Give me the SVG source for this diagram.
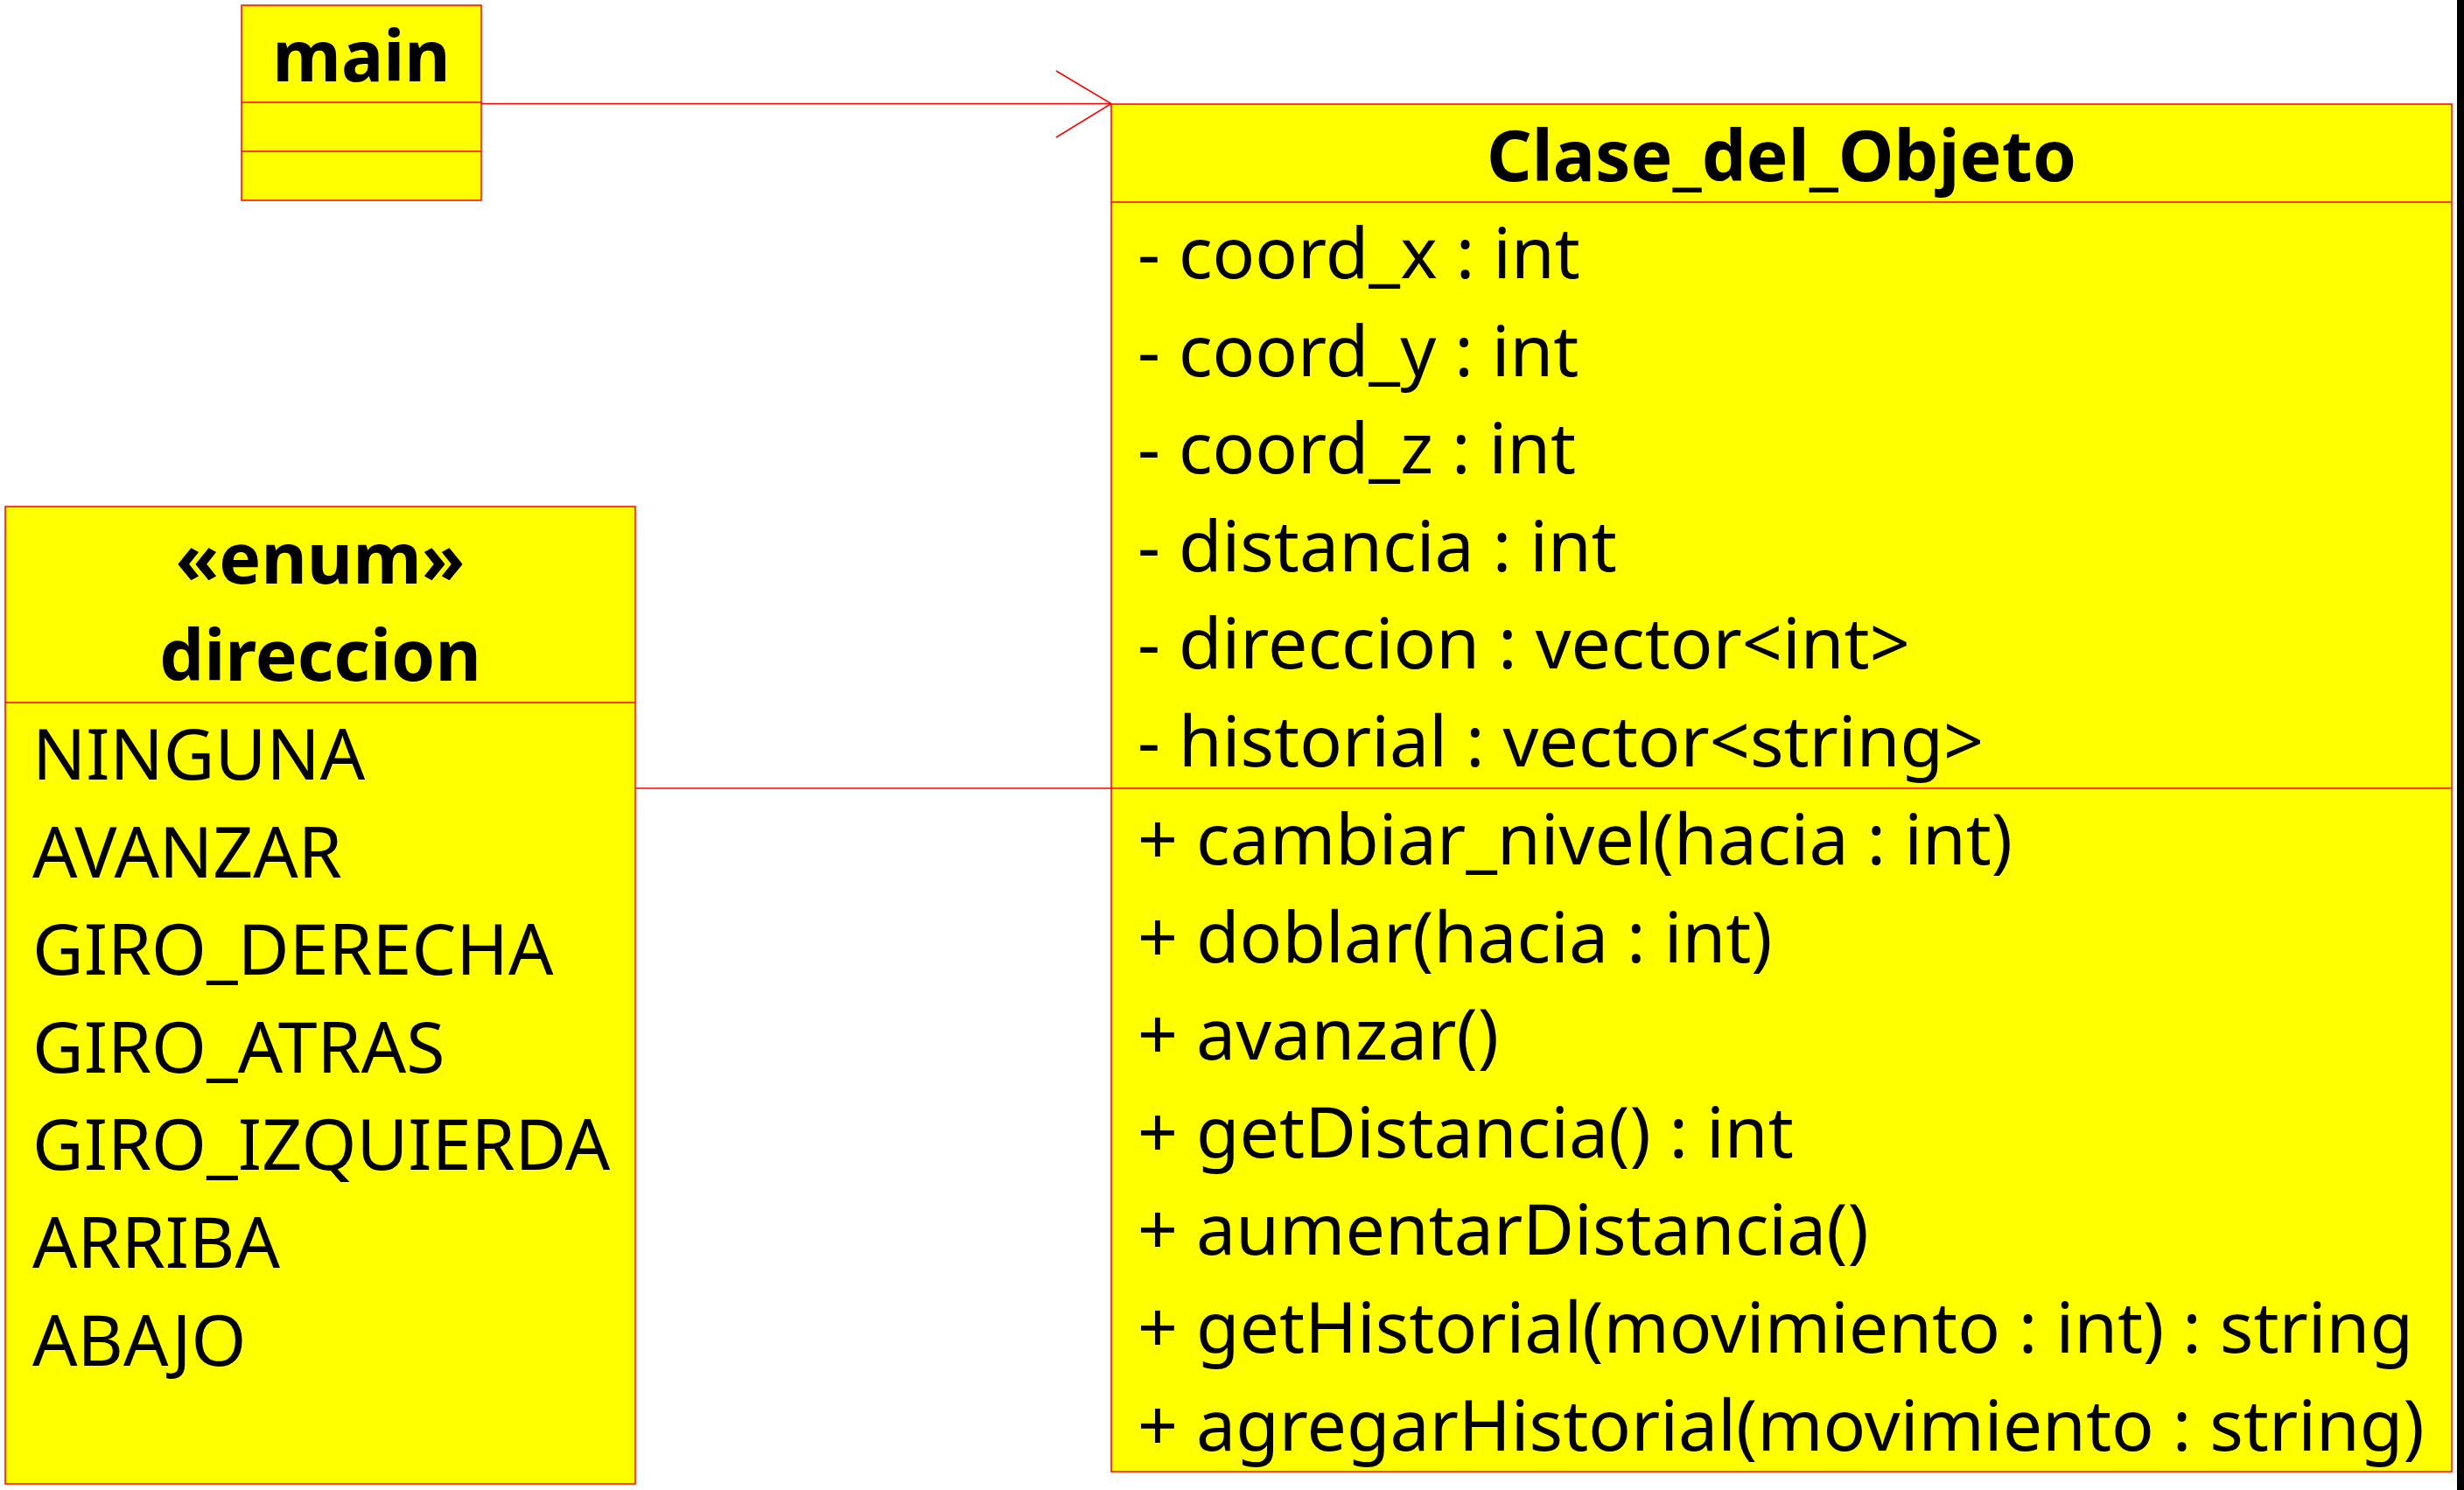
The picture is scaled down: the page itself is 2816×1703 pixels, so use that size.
<svg xmlns="http://www.w3.org/2000/svg" width="2816" height="1703" viewBox="0 0 2816 1703">
<style>
.box{fill:#FFFF00;stroke:#FF0000;stroke-width:1.5}
.div{stroke:#FF0000;stroke-width:1.5;fill:none}
.conn{stroke:#FF0000;stroke-width:1.5;fill:none}
.t{font-family:"Noto Sans","Open Sans",sans-serif;font-size:80.6px;fill:#000}
.b{font-weight:bold;text-anchor:middle}
</style>
<rect x="0" y="0" width="2816" height="1703" fill="#FFFFFF"/>
<rect x="2808" y="0" width="8" height="1703" fill="#000000"/>
<g id="connectors">
<line class="conn" x1="550" y1="118.5" x2="1270" y2="118.5"/>
<polyline class="conn" points="1207,81 1270,118.5 1207,157"/>
<line class="conn" x1="726" y1="901" x2="1270" y2="901"/>
</g>
<g id="main">
<rect class="box" x="276" y="6" width="274" height="223"/>
<line class="div" x1="276" y1="117" x2="550" y2="117"/>
<line class="div" x1="276" y1="173" x2="550" y2="173"/>
<text class="t b" x="413" y="93">main</text>
</g>
<g id="Clase_del_Objeto">
<rect class="box" x="1270" y="119" width="1532" height="1563"/>
<line class="div" x1="1270" y1="231" x2="2802" y2="231"/>
<line class="div" x1="1270" y1="901" x2="2802" y2="901"/>
<text class="t b" x="2036" y="207">Clase_del_Objeto</text>
<text class="t" x="1300" y="318">- coord_x : int</text>
<text class="t" x="1300" y="429.6">- coord_y : int</text>
<text class="t" x="1300" y="541.2">- coord_z : int</text>
<text class="t" x="1300" y="652.8">- distancia : int</text>
<text class="t" x="1300" y="764.4">- direccion : vector&lt;int&gt;</text>
<text class="t" x="1300" y="876">- historial : vector&lt;string&gt;</text>
<text class="t" x="1300" y="988">+ cambiar_nivel(hacia : int)</text>
<text class="t" x="1300" y="1099.6">+ doblar(hacia : int)</text>
<text class="t" x="1300" y="1211.2">+ avanzar()</text>
<text class="t" x="1300" y="1322.8">+ getDistancia() : int</text>
<text class="t" x="1300" y="1434.4">+ aumentarDistancia()</text>
<text class="t" x="1300" y="1546">+ getHistorial(movimiento : int) : string</text>
<text class="t" x="1300" y="1657.6">+ agregarHistorial(movimiento : string)</text>
</g>
<g id="direccion">
<rect class="box" x="6" y="579" width="720" height="1117"/>
<line class="div" x1="6" y1="803" x2="726" y2="803"/>
<text class="t b" x="366" y="667">«enum»</text>
<text class="t b" x="366" y="778">direccion</text>
<text class="t" x="37" y="891">NINGUNA</text>
<text class="t" x="37" y="1002.6">AVANZAR</text>
<text class="t" x="37" y="1114.2">GIRO_DERECHA</text>
<text class="t" x="37" y="1225.8">GIRO_ATRAS</text>
<text class="t" x="37" y="1337.4">GIRO_IZQUIERDA</text>
<text class="t" x="37" y="1449">ARRIBA</text>
<text class="t" x="37" y="1560.6">ABAJO</text>
</g>
</svg>
